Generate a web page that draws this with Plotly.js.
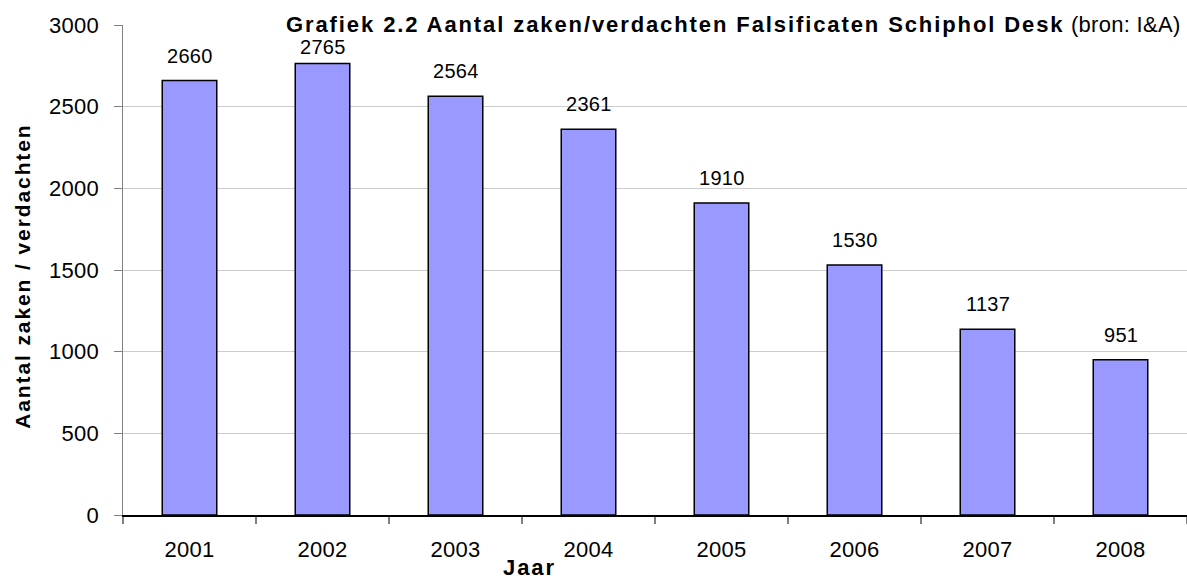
<!DOCTYPE html>
<html><head><meta charset="utf-8">
<script src="https://cdn.plot.ly/plotly-3.0.1.min.js"></script>
<style>
html,body{margin:0;padding:0;background:#fff}
svg text{letter-spacing:0.3px}
svg tspan[style*="bold"], svg text[style*="bold"]{letter-spacing:1.9px}
</style>
</head><body><div id="chart" style="width:1187px;height:579px"></div>
<script>
const years = ['2001','2002','2003','2004','2005','2006','2007','2008'];
const cases = [2660, 2765, 2564, 2361, 1910, 1530, 1137, 951];
const yTicks = [0, 500, 1000, 1500, 2000, 2500, 3000];

const font = 'Liberation Sans, Arial, sans-serif';
const yMax = 3000, plotTop = 25, plotH = 490;
const trace = {
  type: 'bar', x: years, y: cases, width: 0.41,
  marker: {color: '#9999FF', line: {color: '#000000', width: 1.5}},
  hoverinfo: 'x+y'
};
// label gap above bar; labels pushed down if they would run into the title line
const annotations = years.map((yr, i) => {
  const barTopPx = plotTop + (1 - cases[i] / yMax) * plotH;
  const room = barTopPx - 36 - 24;
  return {
    x: i, y: cases[i], xref: 'x', yref: 'y', text: String(cases[i]),
    showarrow: false, yanchor: 'bottom', yshift: Math.max(0, Math.min(12, room)),
    font: {family: font, size: 20, color: '#000'}
  };
});
annotations.push({
  xref: 'paper', yref: 'paper', x: 0.9962, y: 1, yanchor: 'middle', xanchor: 'right', yshift: 1,
  text: '<b>Grafiek 2.2 Aantal zaken/verdachten Falsificaten Schiphol Desk</b> (bron: I&A)',
  showarrow: false, font: {family: font, size: 22, color: '#000'}
});
annotations.push({
  xref: 'paper', yref: 'paper', x: 0.3816, y: 0, yanchor: 'middle', xanchor: 'center', yshift: -52,
  text: '<b>Jaar</b>', showarrow: false, font: {family: font, size: 22, color: '#000'}
});
annotations.push({
  xref: 'paper', yref: 'paper', x: -0.094, y: 0.488, xanchor: 'center', yanchor: 'middle', textangle: -90,
  text: '<b>Aantal zaken / verdachten</b>', showarrow: false, font: {family: font, size: 21, color: '#000'}
});

const layout = {
  width: 1187, height: 579,
  margin: {l: 123, r: 0, t: plotTop, b: 64},
  paper_bgcolor: '#fff', plot_bgcolor: '#fff',
  showlegend: false, bargap: 0.59,
  xaxis: {
    type: 'category', categoryorder: 'array', categoryarray: years, range: [-0.5, 7.5],
    tickson: 'boundaries', ticks: 'outside', ticklen: 7, tickangle: 0, ticklabelstandoff: 14,
    tickcolor: '#808080', tickwidth: 1.5, showline: true, linecolor: '#000', linewidth: 1.5,
    tickfont: {family: font, size: 22, color: '#000'}, showgrid: false, zeroline: false
  },
  yaxis: {
    range: [0, yMax], tickvals: yTicks, ticktext: yTicks.map(String),
    ticks: 'outside', ticklen: 8, tickcolor: '#808080', tickwidth: 1, ticklabelstandoff: 10,
    showline: true, linecolor: '#808080', linewidth: 1.5,
    gridcolor: '#CCCCCC', gridwidth: 1, zeroline: false,
    tickfont: {family: font, size: 22, color: '#000'}
  },
  annotations: annotations
};
Plotly.newPlot('chart', [trace], layout, {displayModeBar: false, staticPlot: true});
</script></body></html>
